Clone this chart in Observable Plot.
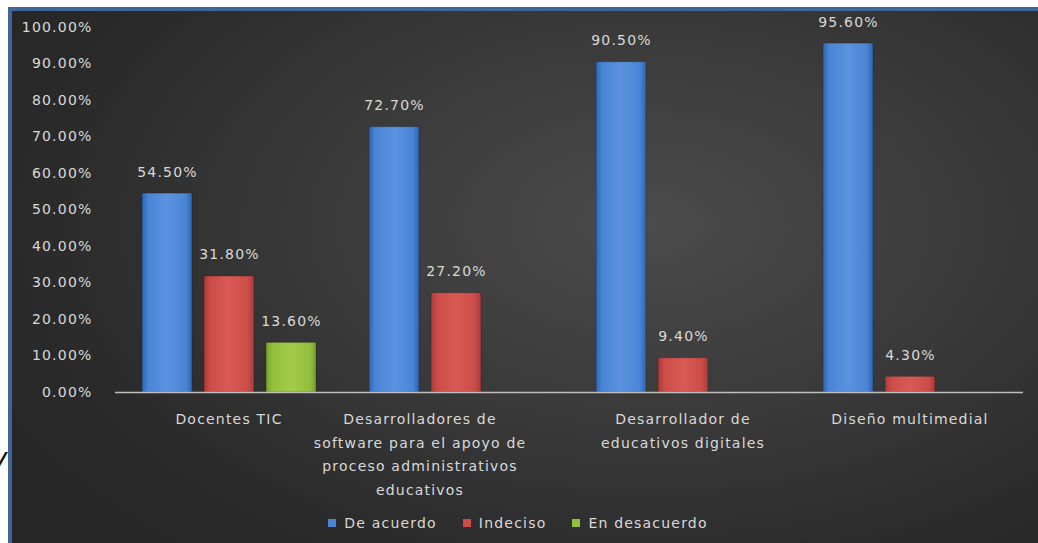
<!DOCTYPE html>
<html>
<head>
<meta charset="utf-8">
<script src="https://cdn.jsdelivr.net/npm/d3@7"></script>
<script src="https://cdn.jsdelivr.net/npm/@observablehq/plot@0.6"></script>
<style>
  html, body { margin: 0; padding: 0; background: #ffffff; }
  #page { position: relative; width: 1038px; height: 543px; overflow: hidden; background: #ffffff; }
  #box { position: absolute; left: 8px; top: 7px; right: 0; bottom: 0;
    border-left: 4px solid #3e6699; border-top: 4px solid #3e6699;
    background: radial-gradient(ellipse 70% 80% at 62% 40%, #4b4b4b 0%, #3a3a3a 45%, #2a2a2a 85%, #272727 100%); }
  #chart { position: absolute; left: 0; top: 0; }
  #chart svg text { letter-spacing: 1.2px; }
  #legend { position: absolute; left: 0; top: 506px; width: 1038px; display: flex; justify-content: center; padding-left: 24px; box-sizing: border-box; }
  #stray { position: absolute; left: -9px; top: 442px; font: italic 28px "DejaVu Sans", sans-serif; color: #111; }
  .lg-swatches .lg-swatch { margin-right: 26px; font: 14px "DejaVu Sans", sans-serif; letter-spacing: 1.2px; color: #d9d9d9; }
  .lg-swatches .lg-swatch > svg { margin-right: 8px; }
</style>
</head>
<body>
<div id="page">
  <div id="stray">y</div>
  <div id="box"></div>
  <svg width="0" height="0" style="position:absolute">
    <defs>
      <linearGradient id="gBlue" x1="0" x2="1" y1="0" y2="0">
        <stop offset="0" stop-color="#2f64b0"/>
        <stop offset="0.12" stop-color="#4a84d6"/>
        <stop offset="0.5" stop-color="#5b93e0"/>
        <stop offset="0.88" stop-color="#4a84d6"/>
        <stop offset="1" stop-color="#2f64b0"/>
      </linearGradient>
      <linearGradient id="gRed" x1="0" x2="1" y1="0" y2="0">
        <stop offset="0" stop-color="#a83a37"/>
        <stop offset="0.12" stop-color="#cc4c48"/>
        <stop offset="0.5" stop-color="#d95a55"/>
        <stop offset="0.88" stop-color="#cc4c48"/>
        <stop offset="1" stop-color="#a83a37"/>
      </linearGradient>
      <linearGradient id="gGreen" x1="0" x2="1" y1="0" y2="0">
        <stop offset="0" stop-color="#76a02c"/>
        <stop offset="0.12" stop-color="#92bf3c"/>
        <stop offset="0.5" stop-color="#a2cc48"/>
        <stop offset="0.88" stop-color="#92bf3c"/>
        <stop offset="1" stop-color="#76a02c"/>
      </linearGradient>
    </defs>
  </svg>
  <div id="chart"></div>
  <div id="legend"></div>
</div>
<script>
const categories = [
  "Docentes TIC",
  "Desarrolladores de software para el apoyo de proceso administrativos educativos",
  "Desarrollador de educativos digitales",
  "Diseño multimedial"
];
const categoryLabels = [
  "Docentes TIC",
  "Desarrolladores de\nsoftware para el apoyo de\nproceso administrativos\neducativos",
  "Desarrollador de\neducativos digitales",
  "Diseño multimedial"
];
const series = ["De acuerdo", "Indeciso", "En desacuerdo"];
const deAcuerdo = [54.5, 72.7, 90.5, 95.6];
const indeciso = [31.8, 27.2, 9.4, 4.3];
const enDesacuerdo = [13.6, null, null, null];
const yTicks = [0, 10, 20, 30, 40, 50, 60, 70, 80, 90, 100];
const seriesFills = ["url(#gBlue)", "url(#gRed)", "url(#gGreen)"];
const seriesColors = ["#4a84d6", "#cc4c48", "#92bf3c"];

const seriesValues = [deAcuerdo, indeciso, enDesacuerdo];
const data = [];
categories.forEach((c, i) => {
  series.forEach((s, j) => {
    const v = seriesValues[j][i];
    if (v != null) data.push({category: c, series: s, value: v, fill: seriesFills[j]});
  });
});

const font = "DejaVu Sans, sans-serif";
const textColor = "#d9d9d9";

const labelOpts = {frameAnchor: "bottom", lineAnchor: "top", dy: 15, lineHeight: 1.68, fill: textColor, fontSize: 14};

const chart = Plot.plot({
  width: 1038,
  height: 543,
  marginLeft: 114,
  marginRight: 14,
  marginTop: 27,
  marginBottom: 151,
  style: {background: "transparent", fontFamily: font, fontSize: "14px", color: textColor, overflow: "visible", letterSpacing: "1.2px"},
  fx: {domain: categories, paddingInner: 0.113, paddingOuter: 0.0565, axis: null, label: null},
  x: {domain: series, padding: 0.2, axis: null, label: null},
  y: {domain: [0, 100], label: null, axis: null},
  marks: [
    Plot.axisY({ticks: yTicks, tickFormat: d => d.toFixed(2) + "%", tickSize: 0, tickPadding: 36, label: null, fontSize: 14, fill: textColor}),
    Plot.barY(data, {fx: "category", x: "series", y: "value", fill: "fill", stroke: "#1e1e1e", strokeOpacity: 0.35, strokeWidth: 1}),
    Plot.text(data, {fx: "category", x: "series", y: "value", text: d => d.value.toFixed(2) + "%", lineAnchor: "bottom", dy: -17, fill: textColor, fontSize: 14}),
    Plot.ruleY([0], {stroke: "#bfbfbf", strokeWidth: 1.5, insetLeft: -13, insetRight: -13}),
    Plot.text(categories.filter((d, i) => i !== 1), {fx: d => d, text: d => categoryLabels[categories.indexOf(d)], ...labelOpts}),
    Plot.text(categories.filter((d, i) => i === 1), {fx: d => d, text: d => categoryLabels[categories.indexOf(d)], ...labelOpts, dx: -36})
  ]
});
document.getElementById("chart").appendChild(chart);

const legend = Plot.legend({
  color: {domain: series, range: seriesColors},
  legend: "swatches",
  swatchSize: 8,
  className: "lg",
  style: {background: "transparent"}
});
document.getElementById("legend").appendChild(legend);
</script>
</body>
</html>
